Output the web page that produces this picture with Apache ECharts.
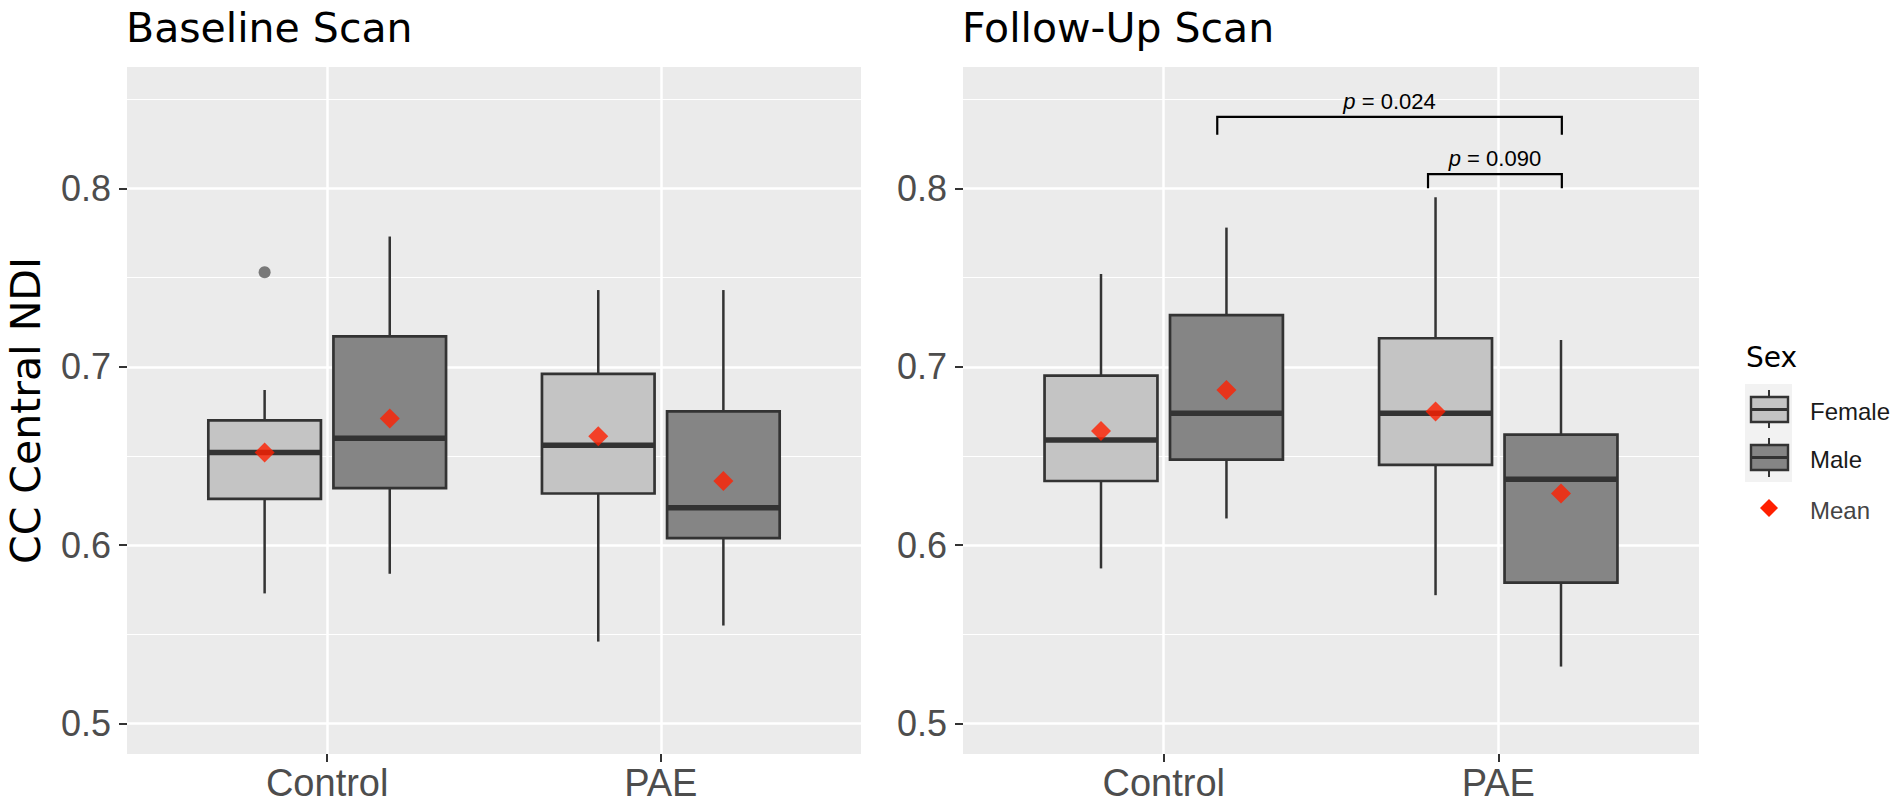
<!DOCTYPE html>
<html>
<head>
<meta charset="utf-8">
<title>CC Central NDI by group and sex</title>
<script src="https://cdn.jsdelivr.net/npm/echarts@6/dist/echarts.min.js"></script>
<style>
  html, body { margin: 0; padding: 0; background: #ffffff; }
  #chart { width: 1901px; height: 809px; }
</style>
</head>
<body>
<div id="chart"></div>
<script>
const panels = ['Baseline Scan', 'Follow-Up Scan'];
const groups = ['Control', 'PAE'];
const sexes = ['Female', 'Male'];
const yTicks = [0.5, 0.6, 0.7, 0.8];
const yMinorTicks = [0.55, 0.65, 0.75, 0.85];
const yMin = 0.483;
const yMax = 0.868;

// [lower whisker, Q1, median, Q3, upper whisker] for Control, PAE
const baselineFemale = [[0.573, 0.626, 0.652, 0.670, 0.687], [0.546, 0.629, 0.656, 0.696, 0.743]];
const baselineMale = [[0.584, 0.632, 0.660, 0.717, 0.773], [0.555, 0.604, 0.621, 0.675, 0.743]];
const followFemale = [[0.587, 0.636, 0.659, 0.695, 0.752], [0.572, 0.645, 0.674, 0.716, 0.795]];
const followMale = [[0.615, 0.648, 0.674, 0.729, 0.778], [0.532, 0.579, 0.637, 0.662, 0.715]];

const baselineMeanFemale = [0.652, 0.661];
const baselineMeanMale = [0.671, 0.636];
const followMeanFemale = [0.664, 0.675];
const followMeanMale = [0.687, 0.629];

const baselineNFemale = [15, 17];
const baselineNMale = [16, 17];
const followNFemale = [14, 16];
const followNMale = [15, 14];

// outliers: [group index, sex index, value]
const baselineOutliers = [[0, 0, 0.753]];
const followOutliers = [];

// significance brackets (follow-up panel)
const bracketFrom = [1.16, 1.79];
const bracketTo = [2.19, 2.19];
const bracketTop = [0.840, 0.808];
const bracketTip = [0.830, 0.800];
const pValues = ['0.024', '0.090'];

const nLabelY = 0.52;
const dodge = 0.1875;
const boxWidth = 0.3375;
const nShift = 0.027;
const boxFill = ['#c4c4c4', '#858585'];
const meanColor = '#ff1f00';
const lineColor = '#333333';
const labelFont = 'Liberation Sans, Arial, sans-serif';
const titleFont = 'DejaVu Sans, sans-serif';

const xPos = ( g, s ) => g + 1 + ( s === 0 ? -dodge : dodge );

function renderBox( params, api ) {
	const x = api.value( 0 );
	const half = boxWidth / 2;
	const lo = api.coord( [ x, api.value( 1 ) ] );
	const q1 = api.coord( [ x, api.value( 2 ) ] );
	const q3 = api.coord( [ x, api.value( 4 ) ] );
	const hi = api.coord( [ x, api.value( 5 ) ] );
	const tl = api.coord( [ x - half, api.value( 4 ) ] );
	const br = api.coord( [ x + half, api.value( 2 ) ] );
	const ml = api.coord( [ x - half, api.value( 3 ) ] );
	const mr = api.coord( [ x + half, api.value( 3 ) ] );
	return {
		type: 'group',
		children: [
			{ type: 'line', shape: { x1: lo[0], y1: lo[1], x2: q1[0], y2: q1[1] }, style: { stroke: lineColor, lineWidth: 2.5 } },
			{ type: 'line', shape: { x1: q3[0], y1: q3[1], x2: hi[0], y2: hi[1] }, style: { stroke: lineColor, lineWidth: 2.5 } },
			{ type: 'rect', shape: { x: tl[0], y: tl[1], width: br[0] - tl[0], height: br[1] - tl[1] },
				style: { fill: api.visual( 'color' ), stroke: lineColor, lineWidth: 2.7 } },
			{ type: 'line', shape: { x1: ml[0], y1: ml[1], x2: mr[0], y2: mr[1] }, style: { stroke: lineColor, lineWidth: 5.5 } }
		]
	};
}

function renderBracket( params, api ) {
	const x1 = api.value( 0 );
	const x2 = api.value( 1 );
	const a = api.coord( [ x1, api.value( 3 ) ] );
	const b = api.coord( [ x1, api.value( 2 ) ] );
	const c = api.coord( [ x2, api.value( 2 ) ] );
	const d = api.coord( [ x2, api.value( 3 ) ] );
	return {
		type: 'group',
		children: [
			{ type: 'polyline', shape: { points: [ a, b, c, d ] }, style: { stroke: '#000000', lineWidth: 2.2, fill: null } },
			{ type: 'text', x: ( b[0] + c[0] ) / 2, y: b[1] - 15.5,
				style: {
					text: '{i|p} = ' + pValues[params.dataIndex],
					align: 'center', verticalAlign: 'middle',
					fontSize: 22, fontFamily: labelFont, fill: '#000000',
					rich: { i: { fontSize: 22, fontFamily: labelFont, fontStyle: 'italic', fill: '#000000' } }
				} }
		]
	};
}

function makeXAxis( i ) {
	return {
		type: 'value', gridIndex: i, min: 0.4, max: 2.6,
		axisLine: { show: false },
		axisTick: { show: true, customValues: [ 1, 2 ], length: 8, lineStyle: { color: lineColor, width: 2 } },
		axisLabel: { customValues: [ 1, 2 ], formatter: v => groups[Math.round( v ) - 1], margin: 10,
			fontSize: 38, color: '#4d4d4d', fontFamily: labelFont },
		splitLine: { show: true, lineStyle: { color: '#ffffff', width: 2.5 } }
	};
}

function makeYAxes( i ) {
	const major = {
		type: 'value', gridIndex: i, min: yMin, max: yMax, position: 'left',
		axisLine: { show: false },
		axisTick: { show: true, customValues: yTicks, length: 8, lineStyle: { color: lineColor, width: 2 } },
		axisLabel: { customValues: yTicks, formatter: v => v.toFixed( 1 ), margin: 16,
			fontSize: 36, color: '#4d4d4d', fontFamily: labelFont },
		splitLine: { show: true, lineStyle: { color: '#ffffff', width: 2.5 } }
	};
	if ( i === 0 ) {
		major.name = 'CC Central NDI';
		major.nameLocation = 'middle';
		major.nameGap = 81;
		major.nameTextStyle = { fontSize: 41, fontFamily: titleFont, color: '#000000' };
	}
	const minor = {
		type: 'value', gridIndex: i, min: yMin, max: yMax, position: 'left',
		axisLine: { show: false },
		axisTick: { show: false, customValues: yMinorTicks },
		axisLabel: { show: false },
		splitLine: { show: true, lineStyle: { color: '#ffffff', width: 1.2 } }
	};
	return [ major, minor ];
}

function panelSeries( p, stats, means, counts, outliers ) {
	const out = [];
	stats.forEach( ( rows, s ) => {
		out.push( {
			type: 'custom', name: sexes[s], xAxisIndex: p, yAxisIndex: p * 2, z: 3,
			renderItem: renderBox,
			encode: { x: 0, y: [ 1, 2, 3, 4, 5 ] },
			itemStyle: { color: boxFill[s] },
			data: rows.map( ( v, g ) => [ xPos( g, s ) ].concat( v ) )
		} );
	} );
	out.push( {
		type: 'scatter', name: 'Outlier', xAxisIndex: p, yAxisIndex: p * 2, z: 4,
		symbol: 'circle', symbolSize: 12, itemStyle: { color: '#5c5c5c' },
		data: outliers.map( o => [ xPos( o[0], o[1] ), o[2] ] )
	} );
	means.forEach( ( vals, s ) => {
		out.push( {
			type: 'scatter', name: 'Mean', xAxisIndex: p, yAxisIndex: p * 2, z: 5,
			symbol: 'diamond', symbolSize: 20, itemStyle: { color: meanColor },
			data: vals.map( ( v, g ) => [ xPos( g, s ), v ] )
		} );
	} );
	counts.forEach( ( vals, s ) => {
		out.push( {
			type: 'scatter', name: 'n', xAxisIndex: p, yAxisIndex: p * 2, z: 4,
			symbol: 'circle', symbolSize: 1, itemStyle: { opacity: 0 },
			label: { show: true, position: 'inside', formatter: d => 'n=' + d.value[2],
				fontSize: 30, color: '#1a1a1a', fontFamily: labelFont },
			data: vals.map( ( n, g ) => [ xPos( g, s ) + nShift, nLabelY, n ] )
		} );
	} );
	return out;
}

const series = []
	.concat( panelSeries( 0, [ baselineFemale, baselineMale ], [ baselineMeanFemale, baselineMeanMale ],
		[ baselineNFemale, baselineNMale ], baselineOutliers ) )
	.concat( panelSeries( 1, [ followFemale, followMale ], [ followMeanFemale, followMeanMale ],
		[ followNFemale, followNMale ], followOutliers ) );

series.push( {
	type: 'custom', name: 'p', xAxisIndex: 1, yAxisIndex: 2, z: 6,
	renderItem: renderBracket,
	encode: { x: [ 0, 1 ], y: [ 2, 3 ] },
	data: bracketFrom.map( ( f, i ) => [ f, bracketTo[i], bracketTop[i], bracketTip[i] ] )
} );

// legend drawn by hand to get the ggplot key look
const legendGraphic = [
	{ type: 'text', x: 1746, y: 357, style: { text: 'Sex', fontSize: 28, fontFamily: titleFont, fill: '#000000', verticalAlign: 'middle' } },
	{ type: 'rect', shape: { x: 1745, y: 384, width: 47, height: 98 }, style: { fill: '#f2f2f2' } },
	{ type: 'line', shape: { x1: 1769, y1: 390, x2: 1769, y2: 428 }, style: { stroke: lineColor, lineWidth: 2 } },
	{ type: 'rect', shape: { x: 1751, y: 397, width: 37, height: 25 }, style: { fill: boxFill[0], stroke: lineColor, lineWidth: 2.4 } },
	{ type: 'line', shape: { x1: 1751, y1: 409.5, x2: 1788, y2: 409.5 }, style: { stroke: lineColor, lineWidth: 3 } },
	{ type: 'line', shape: { x1: 1769, y1: 438, x2: 1769, y2: 477 }, style: { stroke: lineColor, lineWidth: 2 } },
	{ type: 'rect', shape: { x: 1751, y: 445, width: 37, height: 25 }, style: { fill: boxFill[1], stroke: lineColor, lineWidth: 2.4 } },
	{ type: 'line', shape: { x1: 1751, y1: 457.5, x2: 1788, y2: 457.5 }, style: { stroke: lineColor, lineWidth: 3 } },
	{ type: 'polygon', shape: { points: [ [ 1769, 499 ], [ 1778, 508 ], [ 1769, 517 ], [ 1760, 508 ] ] }, style: { fill: meanColor } },
	{ type: 'text', x: 1810, y: 411, style: { text: sexes[0], fontSize: 24, fontFamily: labelFont, fill: '#1a1a1a', verticalAlign: 'middle' } },
	{ type: 'text', x: 1810, y: 459, style: { text: sexes[1], fontSize: 24, fontFamily: labelFont, fill: '#1a1a1a', verticalAlign: 'middle' } },
	{ type: 'text', x: 1810, y: 510, style: { text: 'Mean', fontSize: 24, fontFamily: labelFont, fill: '#444444', verticalAlign: 'middle' } }
];

const chart = echarts.init( document.getElementById( 'chart' ), null, { renderer: 'svg' } );

chart.setOption( {
	animation: false,
	backgroundColor: '#ffffff',
	title: panels.map( ( t, i ) => ( {
		text: t, left: i === 0 ? 126 : 962, top: 7, padding: 0,
		textStyle: { fontSize: 41, fontWeight: 'normal', fontFamily: titleFont, color: '#000000' }
	} ) ),
	grid: [
		{ left: 127, top: 67, width: 734, height: 687, show: true, backgroundColor: '#ebebeb', borderWidth: 0 },
		{ left: 963, top: 67, width: 736, height: 687, show: true, backgroundColor: '#ebebeb', borderWidth: 0 }
	],
	xAxis: [ makeXAxis( 0 ), makeXAxis( 1 ) ],
	yAxis: makeYAxes( 0 ).concat( makeYAxes( 1 ) ),
	series: series,
	graphic: legendGraphic
} );
</script>
</body>
</html>
